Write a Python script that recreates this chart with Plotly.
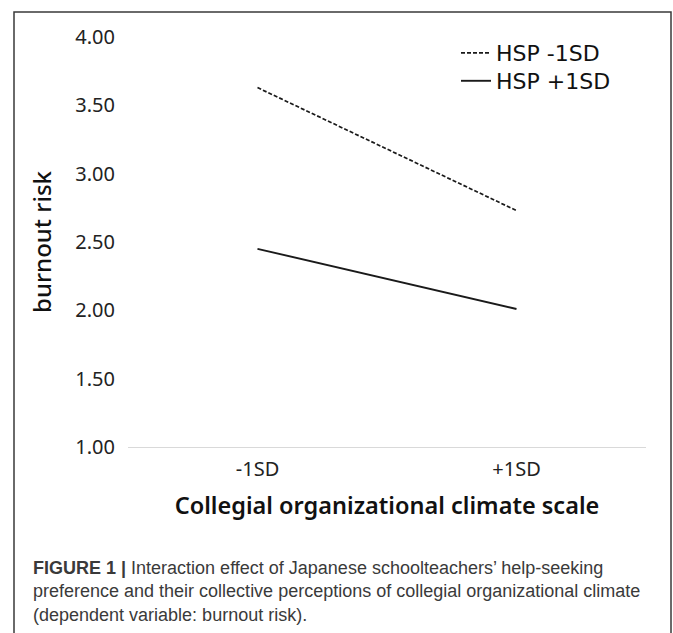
import plotly.graph_objects as go

categories = ["-1SD", "+1SD"]
hsp_minus = [3.63, 2.73]
hsp_plus = [2.45, 2.01]
series_names = ["HSP -1SD", "HSP +1SD"]
y_ticks = [1.0, 1.5, 2.0, 2.5, 3.0, 3.5, 4.0]
caption = ("<b>FIGURE 1 |</b> Interaction effect of Japanese schoolteachers\u2019 help-seeking<br>"
           "preference and their collective perceptions of collegial organizational climate<br>"
           "(dependent variable: burnout risk).")

W, H = 673, 633
L, R, T, B = 128, 27, 37, 186
pw, ph = W - L - R, H - T - B

def px_x(x):
    return (x - L) / pw

def px_y(y):
    return (H - B - y) / ph

fig = go.Figure()
fig.add_trace(go.Scatter(x=categories, y=hsp_minus, mode="lines", name=series_names[0],
                         legend="legend",
                         line=dict(color="#1a1a1a", width=1.7, dash="4px,2px")))
fig.add_trace(go.Scatter(x=categories, y=hsp_plus, mode="lines", name=series_names[1],
                         legend="legend2",
                         line=dict(color="#1a1a1a", width=1.9)))

chart_font = "Noto Sans, Open Sans, DejaVu Sans, sans-serif"
legend_font = dict(family="DejaVu Sans, Noto Sans, sans-serif", size=22, color="#111111")

fig.update_layout(
    width=W, height=H,
    margin=dict(l=L, r=R, t=T, b=B, autoexpand=False),
    paper_bgcolor="white", plot_bgcolor="white",
    font=dict(family=chart_font, color="#222222", size=20),
    showlegend=True,
    legend=dict(x=px_x(456), y=px_y(32), xanchor="left", yanchor="top",
                font=legend_font, bgcolor="rgba(0,0,0,0)", itemwidth=30),
    legend2=dict(x=px_x(456), y=px_y(60), xanchor="left", yanchor="top",
                 font=legend_font, bgcolor="rgba(0,0,0,0)", itemwidth=30),
    xaxis=dict(type="category", range=[-0.5, 1.5], showgrid=False, zeroline=False,
               showline=True, linecolor="#d9d9d9", linewidth=1.2, ticks="",
               ticklabelstandoff=4,
               tickfont=dict(size=20, color="#222222"),
               title=dict(text="Collegial organizational climate scale",
                          font=dict(size=23.5, color="#111111", weight=600), standoff=16)),
    yaxis=dict(range=[1, 4], tickvals=y_ticks, tickformat=".2f", showgrid=False,
               zeroline=False, showline=False, ticks="", ticklabelstandoff=12,
               tickfont=dict(size=20, color="#222222"),
               title=dict(text="burnout risk", font=dict(size=24, color="#111111", weight=500),
                          standoff=16)),
)

fig.add_shape(type="rect", xref="paper", yref="paper",
              x0=px_x(14), x1=px_x(671), y0=px_y(700), y1=px_y(12),
              line=dict(color="#3a3a3a", width=1.5), fillcolor="rgba(0,0,0,0)", layer="above")

fig.add_annotation(xref="paper", yref="paper", x=px_x(31), y=px_y(556),
                   xanchor="left", yanchor="top", align="left", showarrow=False,
                   text=caption,
                   font=dict(family="Liberation Sans Narrow, Arial Narrow, Liberation Sans, sans-serif",
                             size=18, color="#3a3a3a"))

fig.write_html("out.html", config={"displayModeBar": False},
               post_script="document.body.style.margin='0';")
